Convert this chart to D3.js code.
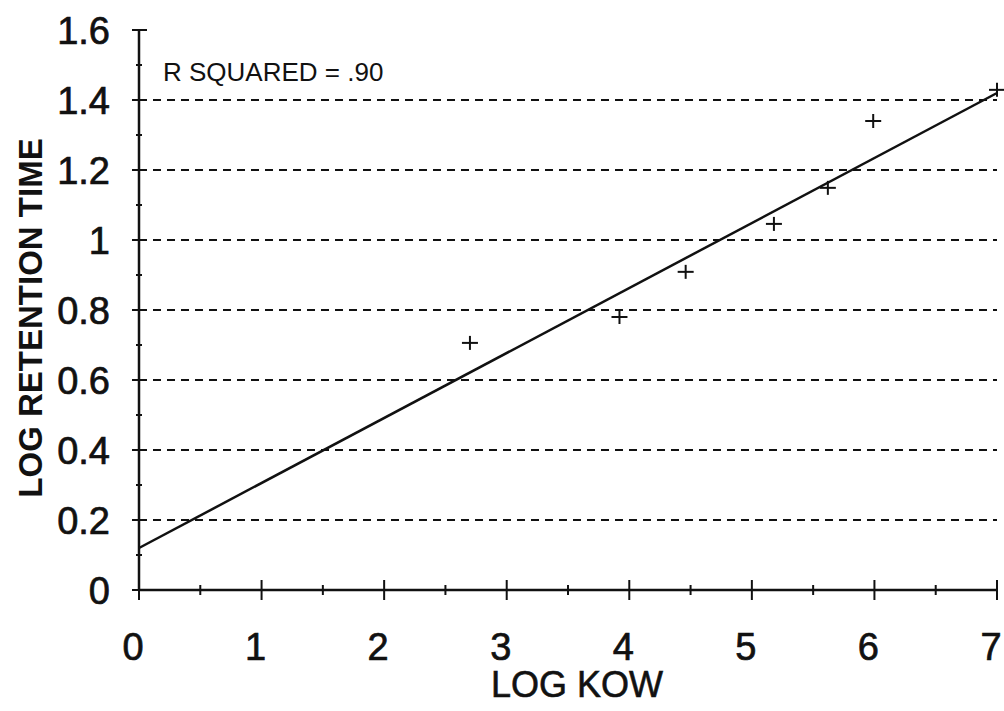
<!DOCTYPE html>
<html>
<head>
<meta charset="utf-8">
<script src="https://cdn.jsdelivr.net/npm/d3@7"></script>
<style>
  body { margin: 0; background: #fff; }
  text { font-family: "Liberation Sans", Arial, sans-serif; fill: #111; }
</style>
</head>
<body>
<div id="canvas"></div>
<script>
// measured points
const logKow = [2.70, 3.92, 4.46, 5.18, 5.62, 5.99, 7.0];
const logRet = [0.706, 0.78, 0.909, 1.046, 1.149, 1.34, 1.429];
// regression line end points
const fitX = [0, 7];
const fitY = [0.12, 1.42];
const xTicks = [0, 1, 2, 3, 4, 5, 6, 7];
const yTicks = [0, 0.2, 0.4, 0.6, 0.8, 1, 1.2, 1.4, 1.6];
const gridVals = [0.2, 0.4, 0.6, 0.8, 1, 1.2, 1.4];
const xTitle = "LOG KOW";
const yTitle = "LOG RETENTION TIME";
const note = "R SQUARED = .90";

const width = 1004;
const height = 711;
const margin = { top: 30, left: 139, bottom: 121, right: 7 };

const svg = d3.select("#canvas").append("svg")
  .attr("width", width)
  .attr("height", height);

const x = d3.scaleLinear().domain([0, 7]).range([margin.left, width - margin.right]);
const y = d3.scaleLinear().domain([0, 1.6]).range([height - margin.bottom, margin.top]);

// dashed gridlines
svg.append("g").selectAll("line").data(gridVals).enter().append("line")
  .attr("x1", x(0)).attr("x2", x(7))
  .attr("y1", d => y(d)).attr("y2", d => y(d))
  .attr("stroke", "#111").attr("stroke-width", 2)
  .attr("stroke-dasharray", "8,6");

// y axis with crossing ticks
const yMinor = d3.range(1, 16, 2).map(d => d / 10);
const yAxis = svg.append("g").attr("stroke", "#111");
yAxis.append("line")
  .attr("x1", x(0)).attr("x2", x(0)).attr("y1", y(0)).attr("y2", y(1.6))
  .attr("stroke-width", 2.5);
yAxis.selectAll(".maj").data(yTicks).enter().append("line")
  .attr("x1", x(0) - 7).attr("x2", x(0) + 8)
  .attr("y1", d => y(d)).attr("y2", d => y(d))
  .attr("stroke-width", 2);
yAxis.selectAll(".min").data(yMinor).enter().append("line")
  .attr("x1", x(0) - 3).attr("x2", x(0) + 3)
  .attr("y1", d => y(d)).attr("y2", d => y(d))
  .attr("stroke-width", 2);

svg.append("g").selectAll("text").data(yTicks).enter().append("text")
  .attr("x", 110).attr("y", d => y(d))
  .attr("dy", "0.36em")
  .attr("text-anchor", "end")
  .style("font-size", "38px")
  .style("stroke", "#111").style("stroke-width", 0.7)
  .text(d => d3.format("~g")(d));

// x axis
const xMinor = d3.range(0.5, 7, 1);
const xAxis = svg.append("g").attr("stroke", "#111");
xAxis.append("line")
  .attr("x1", x(0)).attr("x2", x(7)).attr("y1", y(0)).attr("y2", y(0))
  .attr("stroke-width", 2.5);
xAxis.selectAll(".maj").data(xTicks).enter().append("line")
  .attr("x1", d => x(d)).attr("x2", d => x(d))
  .attr("y1", y(0) - 10).attr("y2", y(0) + 10)
  .attr("stroke-width", 2);
xAxis.selectAll(".min").data(xMinor).enter().append("line")
  .attr("x1", d => x(d)).attr("x2", d => x(d))
  .attr("y1", y(0) - 5).attr("y2", y(0) + 5)
  .attr("stroke-width", 2);

svg.append("g").selectAll("text").data(xTicks).enter().append("text")
  .attr("x", d => x(d) - 6).attr("y", 660)
  .attr("text-anchor", "middle")
  .style("font-size", "38px")
  .style("stroke", "#111").style("stroke-width", 0.7)
  .text(d => d);

// regression line
const fit = fitX.map((d, i) => [d, fitY[i]]);
svg.append("path")
  .datum(fit)
  .attr("fill", "none")
  .attr("stroke", "#111")
  .attr("stroke-width", 2.5)
  .attr("d", d3.line().x(d => x(d[0])).y(d => y(d[1])));

// point markers (+)
const pts = logKow.map((d, i) => ({ k: d, r: logRet[i] }));
const marks = svg.append("g").attr("stroke", "#111").attr("stroke-width", 2);
marks.selectAll(".h").data(pts).enter().append("line")
  .attr("x1", d => x(d.k) - 8).attr("x2", d => x(d.k) + 8)
  .attr("y1", d => y(d.r)).attr("y2", d => y(d.r));
marks.selectAll(".v").data(pts).enter().append("line")
  .attr("x1", d => x(d.k)).attr("x2", d => x(d.k))
  .attr("y1", d => y(d.r) - 7).attr("y2", d => y(d.r) + 7);

// titles
svg.append("text")
  .attr("x", 577).attr("y", 697)
  .attr("text-anchor", "middle")
  .style("font-size", "36px")
  .style("stroke", "#111").style("stroke-width", 0.6)
  .text(xTitle);

svg.append("text")
  .attr("transform", `translate(42, ${(y(0) + y(1.6)) / 2 + 8}) rotate(-90)`)
  .attr("text-anchor", "middle")
  .style("font-size", "33px")
  .style("font-weight", "bold")
  .text(yTitle);

svg.append("text")
  .attr("x", 163).attr("y", 81)
  .style("font-size", "26px")
  .text(note);
</script>
</body>
</html>
